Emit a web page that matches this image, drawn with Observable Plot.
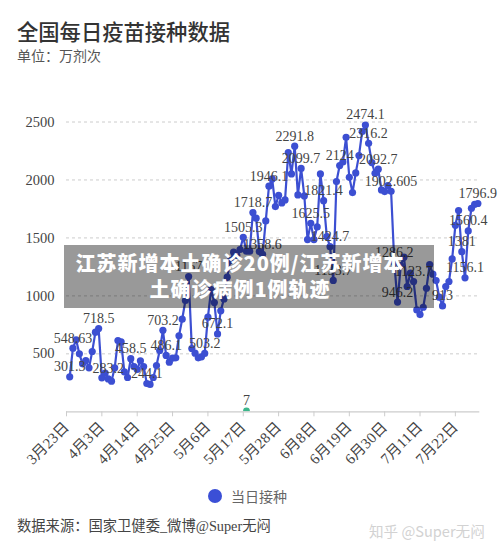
<!DOCTYPE html>
<html><head><meta charset="utf-8">
<script src="https://cdn.jsdelivr.net/npm/d3@7"></script>
<script src="https://cdn.jsdelivr.net/npm/@observablehq/plot@0.6"></script>
<style>
html,body{margin:0;padding:0;background:#fff;width:500px;height:553px;overflow:hidden}
#page{position:relative;width:500px;height:553px;font-family:"Noto Sans CJK SC","Noto Sans",sans-serif}
#page>div{position:absolute;white-space:nowrap}
#chart{left:0;top:100px}
#chart svg{display:block}
#chart svg,#chart svg text,#chart svg g{font-family:"Liberation Serif","Noto Sans CJK SC",serif !important}
</style></head><body>
<div id="page">
<div id="title" style="left:17px;top:15px;font-size:21.3px;line-height:32px;font-weight:500;color:#333">全国每日疫苗接种数据</div>
<div id="sub" style="left:17px;top:45px;font-size:14px;line-height:20px;color:#555">单位：万剂次</div>
<div id="chart"></div>
<div id="banner" style="left:64px;top:245px;width:370px;height:62.5px;background:rgba(0,0,0,.4);color:#fff;font-weight:900;font-size:20px;letter-spacing:1px;line-height:26px;text-align:center;white-space:normal;padding:5px 18px 0 0;box-sizing:border-box">江苏新增本土确诊20例/江苏新增本<br>土确诊病例1例轨迹</div>
<div id="legend" style="left:208px;top:489px;display:flex;align-items:center;font-size:14px;line-height:14px;color:#666"><span style="width:14px;height:14px;border-radius:50%;background:#3b4fd6;margin-right:9px"></span>当日接种</div>
<div id="source" style="left:17px;top:516px;font-size:14.3px;line-height:20px;color:#444;font-family:'Liberation Serif','Noto Sans CJK SC',serif">数据来源：国家卫健委_微博@Super无闷</div>
<div id="mark" style="left:369px;top:521px;font-size:14.6px;line-height:20px;color:#d2d2d2">知乎 @Super无闷</div>
</div>
<script>
const dailyDoses = [301.3,548.63,621,500,414,442,379,520,687,718.5,293,333,283.2,264,379,615,603,345,296,458.5,390,365,440,391,244.1,236,296,399,529,703.2,486.1,428,463,466,655,799,960,1167,546,506,466,474,503.2,816,1055,943,672.1,871,974,1161,1305,1377,1350,1400,1505.3,1385,1385,1718.7,1670,1382,1358.6,1647,1946.1,2009,1770,1868,1802,1828,2236,2052,2291.8,1871,2099.7,1862,1486,1625.5,1486,1595,2052,1821.4,1512,1424.7,1133.7,1986,2124,2155,2368,2023,1891,2061,2210,2417,2474.1,2316.2,2150,2058,2092.7,1914,1900,1951,1902.605,1286.2,946.2,1262,1334,1081,1196,1123.7,879,839,902,1066,1270,1187,1132,989,913,1081,1124,1319,1609,1736,1381,1156.1,1560.4,1756,1790,1796.9];
const labelledDays = [0,1,9,12,19,24,29,30,37,42,46,54,57,60,62,70,72,75,79,81,82,84,92,93,96,100,101,102,107,116,122,123,124,127];
const tickDays = [0,11,22,33,44,55,66,77,88,99,110,121];
const tickLabels = ["3月23日","4月3日","4月14日","4月25日","5月6日","5月17日","5月28日","6月8日","6月19日","6月30日","7月11日","7月22日"];
const yTicks = [500,1000,1500,2000,2500];
const greenDay = [56];
const greenValue = [7];

const rows = dailyDoses.map((v,i)=>({day:i+1,v}));
const labelled = labelledDays.map(i=>rows[i]);
const green = greenDay.map((d,i)=>({day:d,v:greenValue[i]}));
const blue = "#3c4fd2";

const plot = Plot.plot({
  width:500,height:370,
  marginTop:21.5,marginBottom:58.7,marginLeft:66,marginRight:20.7,
  style:{background:"transparent"},
  x:{domain:[0,128.6],label:null},
  y:{domain:[0,2500],label:null},
  marks:[
    Plot.ruleY(yTicks,{stroke:"#ccc",strokeDasharray:"3 3",strokeWidth:1,x1:0,x2:128}),
    Plot.dot(green,{x:"day",y:"v",r:3.4,fill:"#3cb68a",clip:"frame"}),
    Plot.text(green,{x:"day",y:"v",text:d=>String(d.v),dy:-10,fontSize:14,fill:"#444"}),
    Plot.ruleY([0],{stroke:"#ccc",strokeWidth:1.2}),
    Plot.axisX({ticks:tickDays,tickFormat:d=>tickLabels[tickDays.indexOf(d)],tickSize:5,tickRotate:-45,tickPadding:8,stroke:"#ccc",fontSize:15,fill:"#444",label:null,textAnchor:"end"}),
    Plot.axisY({ticks:yTicks,tickFormat:"d",tickSize:0,tickPadding:12,fontSize:14.5,fill:"#444",label:null}),
    Plot.line(rows,{x:"day",y:"v",stroke:blue,strokeWidth:2.2,curve:"linear"}),
    Plot.dot(rows,{x:"day",y:"v",r:3.6,fill:blue}),
    Plot.text(labelled,{x:"day",y:"v",text:d=>String(d.v),dy:-10,fontSize:14,fill:"#444"})
  ]
});
document.getElementById("chart").appendChild(plot);
</script>
</body></html>
